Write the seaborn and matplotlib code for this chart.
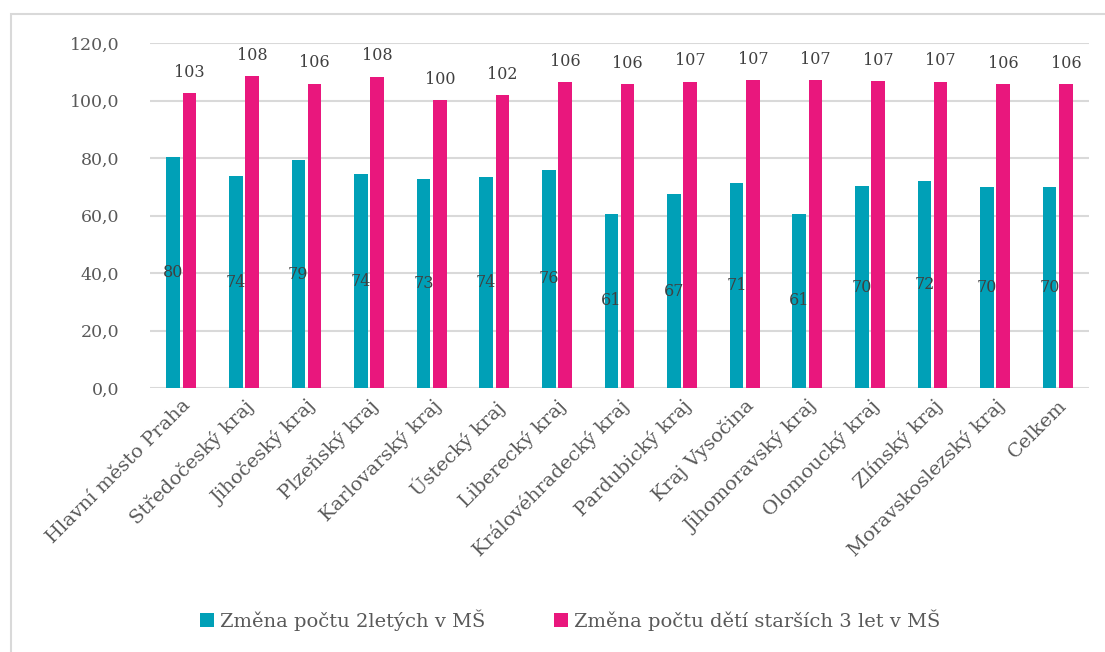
import matplotlib
matplotlib.use("Agg")
import matplotlib.pyplot as plt
import matplotlib.patches as mpatches
import seaborn as sns
import pandas as pd

categories = ["Hlavní město Praha", "Středočeský kraj", "Jihočeský kraj", "Plzeňský kraj",
              "Karlovarský kraj", "Ústecký kraj", "Liberecký kraj", "Královéhradecký kraj",
              "Pardubický kraj", "Kraj Vysočina", "Jihomoravský kraj", "Olomoucký kraj",
              "Zlínský kraj", "Moravskoslezský kraj", "Celkem"]
series_names = ["Změna počtu 2letých v MŠ", "Změna počtu dětí starších 3 let v MŠ"]
teal_values = [80.4, 73.6, 79.2, 74.4, 72.6, 73.5, 76.0, 60.6, 67.4, 71.3, 60.6, 70.2, 72.1, 69.9, 69.9]
pink_values = [102.6, 108.4, 105.9, 108.2, 100.1, 101.8, 106.4, 105.6, 106.6, 107.1, 107.0, 106.7, 106.6, 105.6, 105.6]
y_ticks = [0, 20, 40, 60, 80, 100, 120]
y_tick_labels = ["0,0", "20,0", "40,0", "60,0", "80,0", "100,0", "120,0"]

TEAL = "#00A0B7"
PINK = "#E9177D"
TXT = "#595959"
GRID = "#D9D9D9"

df = pd.DataFrame({
    "kraj": categories * 2,
    "serie": [series_names[0]] * len(categories) + [series_names[1]] * len(categories),
    "hodnota": teal_values + pink_values,
})

sns.set_theme(style="white")
plt.rcParams["font.family"] = ["DejaVu Serif"]

fig = plt.figure(figsize=(11.05, 6.52), dpi=100)
ax = fig.add_axes([150 / 1105, 1 - 388 / 652, (1089 - 150) / 1105, (388 - 43) / 652])

sns.barplot(data=df, x="kraj", y="hodnota", hue="serie", order=categories,
            hue_order=series_names, palette=[TEAL, PINK], width=0.52, gap=0.16,
            saturation=1, ax=ax, legend=True, edgecolor="none")

ax.set_ylim(0, 120)
ax.set_yticks(y_ticks)
ax.set_yticklabels(y_tick_labels, fontsize=12.5, color=TXT)
ax.set_xlim(-0.5, len(categories) - 0.5)
ax.yaxis.grid(True, color=GRID, linewidth=1.5)
ax.set_axisbelow(True)
for s in ax.spines.values():
    s.set_visible(False)
ax.tick_params(axis="both", length=0)
ax.tick_params(axis="y", pad=22)
ax.set_xlabel("")
ax.set_ylabel("")
plt.setp(ax.get_xticklabels(), rotation=45, ha="right", rotation_mode="anchor",
         fontsize=14, color=TXT)
ax.tick_params(axis="x", pad=6)

ax.bar_label(ax.containers[0], labels=[f"{v:.0f}" for v in teal_values],
             label_type="center", fontsize=11.5, color="#404040")
ax.bar_label(ax.containers[1], labels=[f"{v:.0f}" for v in pink_values],
             padding=9, fontsize=11.5, color="#404040")

leg = ax.legend(loc="center", bbox_to_anchor=(570 / 1105, 1 - 620 / 652),
                bbox_transform=fig.transFigure, ncol=2, frameon=False,
                fontsize=14, handlelength=0.75, handleheight=0.75,
                handletextpad=0.3, columnspacing=3.5)
for t in leg.get_texts():
    t.set_color(TXT)

frame = mpatches.Rectangle((11 / 1105, -0.1), 1.2, 1.1 - 14 / 652,
                           transform=fig.transFigure, fill=False,
                           edgecolor=GRID, linewidth=1.5)
fig.patches.append(frame)

fig.savefig("out.png", dpi=100, facecolor="white")
